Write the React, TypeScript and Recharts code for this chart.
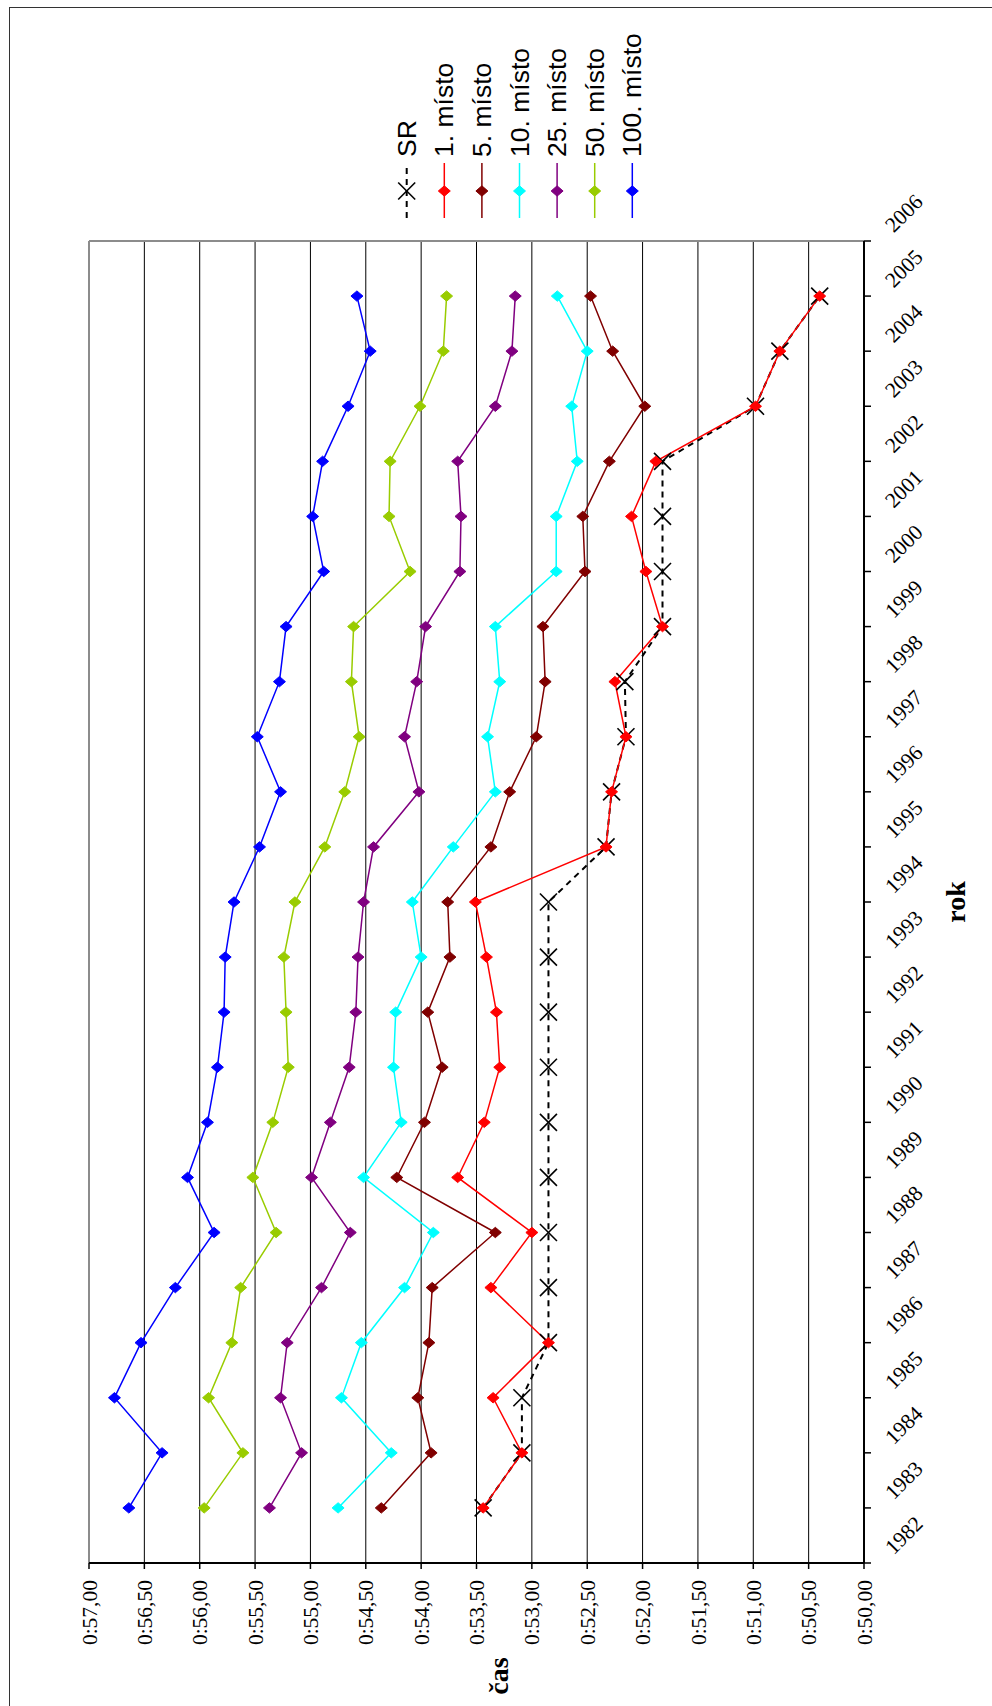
import { LineChart, Line, XAxis, YAxis, CartesianGrid, ReferenceLine } from 'recharts';

// Years 1982–2004, times in seconds (0:SS,hh)
const YEARS = [
  1982, 1983, 1984, 1985, 1986, 1987, 1988, 1989, 1990, 1991, 1992, 1993,
  1994, 1995, 1996, 1997, 1998, 1999, 2000, 2001, 2002, 2003, 2004,
];

const SR = [
  53.44, 53.09, 53.09, 52.85, 52.85, 52.85, 52.85, 52.85, 52.85, 52.85, 52.85, 52.85,
  52.33, 52.28, 52.15, 52.16, 51.82, 51.82, 51.82, 51.82, 50.98, 50.76, 50.40,
];
const PLACE_1 = [
  53.44, 53.09, 53.35, 52.85, 53.37, 53.0, 53.67, 53.43, 53.29, 53.32, 53.41, 53.51,
  52.33, 52.28, 52.15, 52.25, 51.82, 51.97, 52.1, 51.88, 50.98, 50.76, 50.40,
];
const PLACE_5 = [
  54.36, 53.91, 54.03, 53.93, 53.9, 53.33, 54.22, 53.97, 53.81, 53.94, 53.74, 53.76,
  53.37, 53.2, 52.96, 52.88, 52.9, 52.52, 52.54, 52.3, 51.98, 52.27, 52.47,
];
const PLACE_10 = [
  54.75, 54.27, 54.72, 54.54, 54.15, 53.89, 54.52, 54.18, 54.25, 54.23, 54.0, 54.08,
  53.71, 53.33, 53.4, 53.29, 53.33, 52.78, 52.78, 52.59, 52.64, 52.5, 52.77,
];
const PLACE_25 = [
  55.37, 55.08, 55.27, 55.21, 54.9, 54.64, 54.99, 54.82, 54.65, 54.59, 54.57, 54.52,
  54.43, 54.02, 54.15, 54.04, 53.96, 53.65, 53.64, 53.67, 53.33, 53.18, 53.15,
];
const PLACE_50 = [
  55.96, 55.61, 55.92, 55.71, 55.63, 55.31, 55.52, 55.34, 55.2, 55.22, 55.24, 55.14,
  54.87, 54.69, 54.56, 54.63, 54.61, 54.1, 54.29, 54.28, 54.01, 53.8, 53.77,
];
const PLACE_100 = [
  56.64, 56.34, 56.77, 56.53, 56.22, 55.87, 56.11, 55.93, 55.84, 55.78, 55.77, 55.69,
  55.46, 55.27, 55.48, 55.28, 55.22, 54.88, 54.98, 54.89, 54.66, 54.46, 54.58,
];

const SERIES = [
  { key: 'sr', name: 'SR', color: '#000000', values: SR },
  { key: 'm1', name: '1. místo', color: '#ff0000', values: PLACE_1 },
  { key: 'm5', name: '5. místo', color: '#800000', values: PLACE_5 },
  { key: 'm10', name: '10. místo', color: '#00ffff', values: PLACE_10 },
  { key: 'm25', name: '25. místo', color: '#800080', values: PLACE_25 },
  { key: 'm50', name: '50. místo', color: '#99cc00', values: PLACE_50 },
  { key: 'm100', name: '100. místo', color: '#0000ff', values: PLACE_100 },
];

const YEAR_MIN = 1981;
const YEAR_MAX = 2005;
const YEAR_TICKS = Array.from({ length: YEAR_MAX - YEAR_MIN + 1 }, (_, i) => YEAR_MIN + i);
const TIME_TICKS = [50, 50.5, 51, 51.5, 52, 52.5, 53, 53.5, 54, 54.5, 55, 55.5, 56, 56.5, 57];

const data = YEARS.map((year, i) => {
  const row: Record<string, number> = { year };
  SERIES.forEach((s) => {
    row[s.key] = s.values[i];
  });
  return row;
});

// chart is laid out landscape, then turned a quarter turn on the page
const W = 1706;
const H = 992;
const MARGIN = { top: 89, right: 241, bottom: 0, left: 0 };
const Y_AXIS_W = 143;
const X_AXIS_H = 128;
const PLOT_W = W - MARGIN.right - Y_AXIS_W;
const HALF_STEP = PLOT_W / (YEAR_MAX - YEAR_MIN) / 2;

const SERIF = '"Liberation Serif", "Times New Roman", serif';
const SANS = '"Liberation Sans", Arial, sans-serif';

const formatTime = (v: number) => `0:${v.toFixed(2).replace('.', ',')}`;

const diamondPath = (cx: number, cy: number) =>
  `M${cx},${cy - 6} L${cx + 5.2},${cy} L${cx},${cy + 6} L${cx - 5.2},${cy} Z`;

const diamondDot = (color: string) => (props: any) => {
  const { cx, cy, index } = props;
  if (cx == null || cy == null) return <g key={`e-${index}`} />;
  return <path key={`d-${index}`} d={diamondPath(cx, cy)} fill={color} stroke={color} strokeWidth={1} />;
};

const crossDot = (props: any) => {
  const { cx, cy, index } = props;
  if (cx == null || cy == null) return <g key={`e-${index}`} />;
  const r = 8.5;
  return (
    <g key={`x-${index}`} stroke="#000" strokeWidth={1.6}>
      <line x1={cx - r} y1={cy - r} x2={cx + r} y2={cy + r} />
      <line x1={cx - r} y1={cy + r} x2={cx + r} y2={cy - r} />
    </g>
  );
};

// year labels sit in the middle of each band, slanted
const YearTick = (props: any) => {
  const { x, y, payload } = props;
  return (
    <g transform={`translate(${x + HALF_STEP},${y + 31})`}>
      <text
        transform="rotate(45)"
        textAnchor="middle"
        dominantBaseline="central"
        fontFamily={SERIF}
        fontSize={21.5}
        fill="#000"
      >
        {payload.value + 1}
      </text>
    </g>
  );
};

function LegendBox() {
  return (
    <svg
      width={230}
      height={300}
      style={{ position: 'absolute', left: 1480, top: 380, overflow: 'visible' }}
    >
      {SERIES.map((s, i) => {
        const cy = 26.7 + i * 37.6;
        const cx = 35;
        return (
          <g key={s.key}>
            <line
              x1={8}
              x2={63}
              y1={cy}
              y2={cy}
              stroke={s.color}
              strokeWidth={s.key === 'sr' ? 2 : 1.5}
              strokeDasharray={s.key === 'sr' ? '6 5' : undefined}
            />
            {s.key === 'sr' ? (
              <g stroke="#000" strokeWidth={1.6}>
                <line x1={cx - 8.5} y1={cy - 8.5} x2={cx + 8.5} y2={cy + 8.5} />
                <line x1={cx - 8.5} y1={cy + 8.5} x2={cx + 8.5} y2={cy - 8.5} />
              </g>
            ) : (
              <path d={diamondPath(cx, cy)} fill={s.color} stroke={s.color} />
            )}
            <text x={69} y={cy} dominantBaseline="central" fontFamily={SANS} fontSize={26.5} fill="#000">
              {s.name}
            </text>
          </g>
        );
      })}
    </svg>
  );
}

export default function App() {
  return (
    <div style={{ position: 'fixed', left: 0, top: 0, width: 992, height: 1706, overflow: 'hidden', background: '#fff' }}>
      <div
        style={{
          position: 'absolute',
          left: 9,
          top: 7,
          width: 1000,
          height: 1720,
          border: '1.5px solid #333',
          boxSizing: 'border-box',
        }}
      />
      <div
        style={{
          position: 'absolute',
          left: 0,
          top: 0,
          width: W,
          height: H,
          transformOrigin: '0 0',
          transform: `translate(0px, ${W}px) rotate(-90deg)`,
        }}
      >
        <LineChart width={W} height={H} data={data} margin={MARGIN}>
          <CartesianGrid vertical={false} stroke="#000" strokeWidth={1} />
          <XAxis
            dataKey="year"
            type="number"
            domain={[YEAR_MIN, YEAR_MAX]}
            ticks={YEAR_TICKS}
            interval={0}
            height={X_AXIS_H}
            tick={<YearTick />}
            tickSize={7}
            axisLine={{ stroke: '#000', strokeWidth: 2 }}
            tickLine={{ stroke: '#000', strokeWidth: 1.5 }}
          />
          <YAxis
            type="number"
            domain={[50, 57]}
            ticks={TIME_TICKS}
            interval={0}
            width={Y_AXIS_W}
            tickFormatter={formatTime}
            tickSize={6}
            tickMargin={11}
            tick={{ fontFamily: SERIF, fontSize: 21.5, fill: '#000' }}
            axisLine={{ stroke: '#000', strokeWidth: 2 }}
            tickLine={{ stroke: '#000', strokeWidth: 1.5 }}
          />
          <ReferenceLine y={57} stroke="#8c8c8c" strokeWidth={2} />
          <ReferenceLine x={YEAR_MAX} stroke="#8c8c8c" strokeWidth={2} />
          {SERIES.map((s) => (
            <Line
              key={s.key}
              dataKey={s.key}
              name={s.name}
              type="linear"
              stroke={s.color}
              strokeWidth={s.key === 'sr' ? 2 : 1.5}
              strokeDasharray={s.key === 'sr' ? '6 5' : undefined}
              dot={s.key === 'sr' ? crossDot : diamondDot(s.color)}
              activeDot={false}
              isAnimationActive={false}
            />
          ))}
        </LineChart>
        <LegendBox />
        <div
          style={{
            position: 'absolute',
            left: 0,
            top: 479,
            width: 60,
            height: 40,
            lineHeight: '40px',
            textAlign: 'center',
            fontFamily: SERIF,
            fontWeight: 'bold',
            fontSize: 28,
          }}
        >
          čas
        </div>
        <div
          style={{
            position: 'absolute',
            left: 764,
            top: 936,
            width: 80,
            height: 40,
            lineHeight: '40px',
            textAlign: 'center',
            fontFamily: SERIF,
            fontWeight: 'bold',
            fontSize: 28,
          }}
        >
          rok
        </div>
      </div>
    </div>
  );
}
